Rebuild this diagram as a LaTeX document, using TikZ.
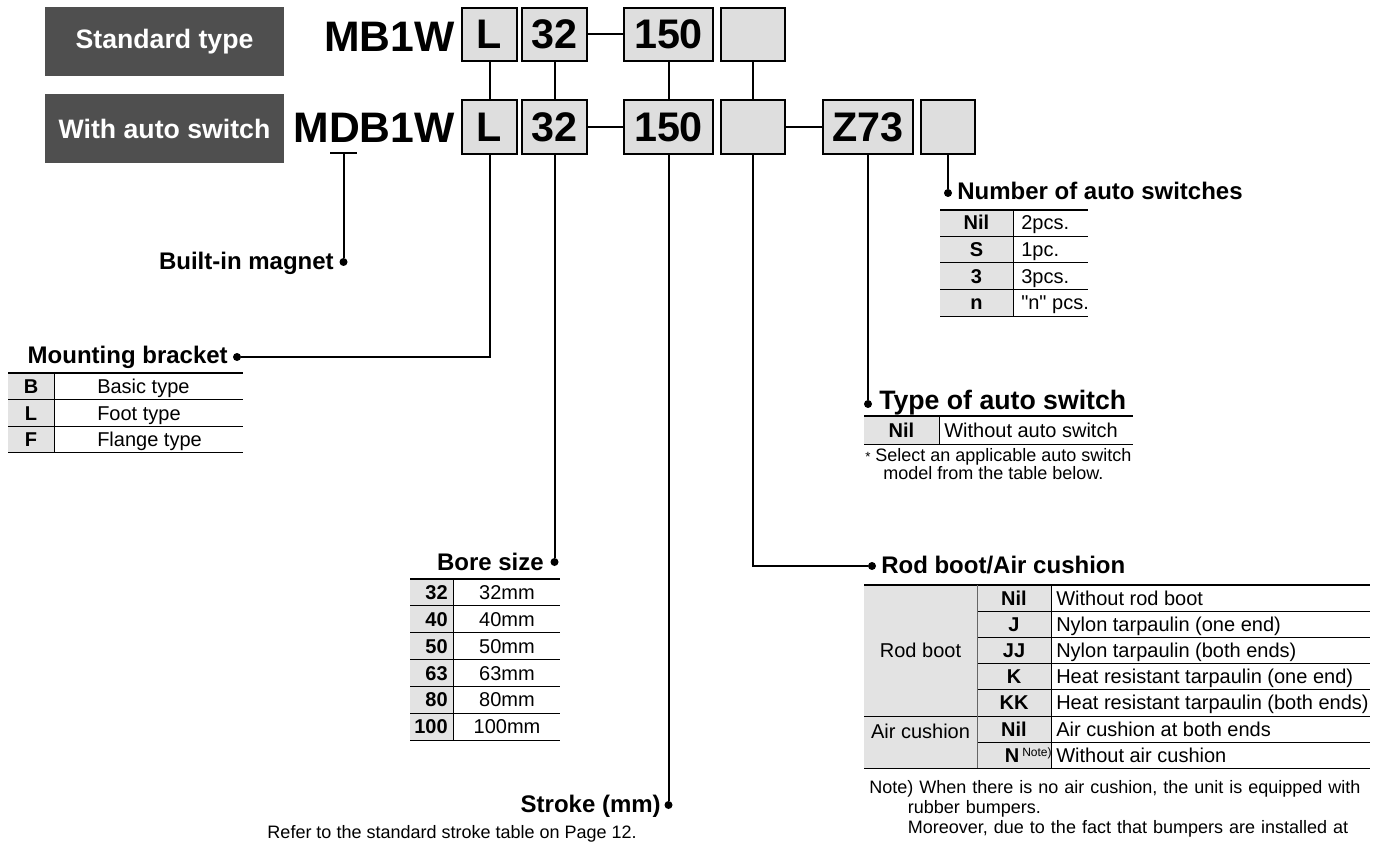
\documentclass[tikz,border=0pt]{standalone}
\usepackage{fontspec}
\setmainfont{Liberation Sans}
\usepackage{tikz}
\definecolor{headgray}{HTML}{4F4F4F}
\definecolor{boxgray}{HTML}{DEDEDE}
\definecolor{cellgray}{HTML}{E3E3E3}
\def\fsz#1{\fontsize{#1}{#1}\selectfont}
\tikzset{
  headbox/.style={fill=headgray, text=white, font=\fsz{20}\bfseries, inner sep=0pt, minimum width=179.25pt, minimum height=51.75pt},
  codebox/.style={draw, line width=1.5pt, fill=boxgray, inner sep=0pt, minimum height=40pt, font=\fsz{31}\bfseries},
  model/.style={font=\fsz{32}\bfseries, inner sep=0pt},
  ttl/.style={font=\fsz{18}\bfseries, inner sep=0pt},
  celltxt/.style={font=\fsz{15}, inner sep=0pt},
  keytxt/.style={font=\fsz{15}\bfseries, inner sep=0pt},
  smalltxt/.style={font=\fsz{13.5}, inner sep=0pt},
  blob/.style={circle, fill, inner sep=0pt, minimum size=6pt},
  wire/.style={line width=1.5pt},
  headrule/.style={line width=1.5pt},
  rowrule/.style={line width=0.75pt}
}

\begin{document}
\begin{tikzpicture}[x=0.75pt,y=-0.75pt]
\useasboundingbox (0,0) rectangle (1386,845);
%headers
\node[headbox] (std) at (164.5,41.5) {Standard type};
\node[headbox] (auto) at (164.5,128.5) {With auto switch};
\node[model, anchor=base east] (mb) at (455,52) {MB1W};
\node[model, anchor=base east] (mdb) at (455,143) {MDB1W};

%code boxes
%standard
\node[codebox, minimum width=41.25pt] (l1) at (489.5,34.5) {L};
\node[codebox, minimum width=48.75pt] (s1) at (554.5,34.5) {32};
\node[codebox, minimum width=66.75pt] (k1) at (668.5,34.5) {150};
\node[codebox, minimum width=48pt] (e1) at (753,34.5) {};
%auto switch
\node[codebox, minimum width=41.25pt] (l2) at (489.5,127) {L};
\node[codebox, minimum width=48.75pt] (s2) at (554.5,127) {32};
\node[codebox, minimum width=66.75pt] (k2) at (668.5,127) {150};
\node[codebox, minimum width=48pt] (e2) at (753,127) {};
\node[codebox, minimum width=67.5pt] (z2) at (868,127) {Z73};
\node[codebox, minimum width=40.5pt] (n2) at (948,127) {};

%dots
\coordinate (dmark) at (343.5,153);
\node[blob] (magdot) at (343.5,262) {};
\node[blob] (mbdot) at (237,357) {};
\node[blob] (boredot) at (554.5,562) {};
\node[blob] (strokedot) at (668.5,805) {};
\node[blob] (roddot) at (872,566) {};
\node[blob] (typedot) at (868,404) {};
\node[blob] (numdot) at (948,193) {};

%connectors
\draw[wire] (s1) -- (k1);
\draw[wire] (s2) -- (k2);
\draw[wire] (e2) -- (z2);
\draw[wire] (l1) -- (l2);
\draw[wire] (s1) -- (s2);
\draw[wire] (k1) -- (k2);
\draw[wire] (e1) -- (e2);
\draw[wire] (dmark) ++(-13.5,0) -- ++(27,0);
\draw[wire] (dmark) -- (magdot);
\draw[wire] (l2.south) |- (mbdot);
\draw[wire] (s2.south) -- (boredot);
\draw[wire] (k2.south) -- (strokedot);
\draw[wire] (e2.south) |- (roddot);
\draw[wire] (z2.south) -- (typedot);
\draw[wire] (n2.south) -- (numdot);

%titles
\node[ttl, anchor=base east] (magttl) at (334,270) {Built-in magnet};
\node[ttl, anchor=base east] (mbttl) at (228,363) {Mounting bracket};
\node[ttl, anchor=base east] (borettl) at (544,570) {Bore size};
\node[ttl, anchor=base east] (strokettl) at (661,812) {Stroke (mm)};
\node[ttl, anchor=base west] (numttl) at (957,200) {Number of auto switches};
\node[ttl, anchor=base west, font=\fsz{20}\bfseries] (typettl) at (879,409) {Type of auto switch};
\node[ttl, anchor=base west] (rodttl) at (881,573) {Rod boot/Air cushion};

%mounting bracket table
\fill[cellgray] (8,373) rectangle (54,452.5);
\draw[headrule] (8,373) -- (243,373);
\draw[rowrule] (8,399.5) -- (243,399.5);
\draw[rowrule] (8,426) -- (243,426);
\draw[rowrule] (8,452.5) -- (243,452.5);
\draw[rowrule] (54,373) -- (54,452.5);
\node[keytxt, anchor=base] (mbB) at (31,393) {B};
\node[keytxt, anchor=base] (mbL) at (31,420) {L};
\node[keytxt, anchor=base] (mbF) at (31,446) {F};
\node[celltxt, anchor=base west] (mbBt) at (97,393) {Basic type};
\node[celltxt, anchor=base west] (mbLt) at (97,420) {Foot type};
\node[celltxt, anchor=base west] (mbFt) at (97,446) {Flange type};

%number of auto switches table
\fill[cellgray] (940,210) rectangle (1013,316);
\draw[headrule] (940,210) -- (1088,210);
\draw[rowrule] (940,236.5) -- (1088,236.5);
\draw[rowrule] (940,263) -- (1088,263);
\draw[rowrule] (940,289.5) -- (1088,289.5);
\draw[rowrule] (940,316) -- (1088,316);
\draw[rowrule] (1013,210) -- (1013,316);
\node[keytxt, anchor=base] (numNil) at (976.5,230) {Nil};
\node[keytxt, anchor=base] (numS) at (976.5,257) {S};
\node[keytxt, anchor=base] (num3) at (976.5,283) {3};
\node[keytxt, anchor=base] (numn) at (976.5,310) {n};
\node[celltxt, anchor=base west] (numNilt) at (1021,230) {2pcs.};
\node[celltxt, anchor=base west] (numSt) at (1021,257) {1pc.};
\node[celltxt, anchor=base west] (num3t) at (1021,283) {3pcs.};
\node[celltxt, anchor=base west] (numnt) at (1021,310) {\textquotedbl n\textquotedbl{} pcs.};

%type of auto switch table
\fill[cellgray] (864,416) rectangle (939,444);
\draw[headrule] (864,416) -- (1133,416);
\draw[rowrule] (864,444) -- (1133,444);
\draw[rowrule] (939,416) -- (939,444);
\node[keytxt, anchor=base] (typeNil) at (901.5,437) {Nil};
\node[celltxt, anchor=base west] (typeNilt) at (944,437) {Without auto switch};
\node[smalltxt, anchor=base west] (typestar) at (865,461) {\fsz{10}*};
\node[smalltxt, anchor=base west] (typenote1) at (875,461) {Select an applicable auto switch};
\node[smalltxt, anchor=base west] (typenote2) at (883,479) {model from the table below.};

%bore size table
\fill[cellgray] (410,579) rectangle (453,740);
\draw[headrule] (410,579) -- (560,579);
\draw[rowrule] (410,605.8) -- (560,605.8);
\draw[rowrule] (410,632.7) -- (560,632.7);
\draw[rowrule] (410,659.5) -- (560,659.5);
\draw[rowrule] (410,686.3) -- (560,686.3);
\draw[rowrule] (410,713.2) -- (560,713.2);
\draw[rowrule] (410,740) -- (560,740);
\draw[rowrule] (453,579) -- (453,740);
\node[keytxt, anchor=base east] (b32) at (448,599.5) {32};
\node[keytxt, anchor=base east] (b40) at (448,626.3) {40};
\node[keytxt, anchor=base east] (b50) at (448,653) {50};
\node[keytxt, anchor=base east] (b63) at (448,680) {63};
\node[keytxt, anchor=base east] (b80) at (448,706.8) {80};
\node[keytxt, anchor=base east] (b100) at (448,733.6) {100};
\node[celltxt, anchor=base] (b32t) at (507,599.5) {32mm};
\node[celltxt, anchor=base] (b40t) at (507,626.3) {40mm};
\node[celltxt, anchor=base] (b50t) at (507,653) {50mm};
\node[celltxt, anchor=base] (b63t) at (507,680) {63mm};
\node[celltxt, anchor=base] (b80t) at (507,706.8) {80mm};
\node[celltxt, anchor=base] (b100t) at (507,733.6) {100mm};

%stroke note
\node[smalltxt, anchor=base east] (strokenote) at (637,838) {Refer to the standard stroke table on Page 12.};

%rod boot / air cushion table
\fill[cellgray] (864,585) rectangle (1051,768.4);
\draw[headrule] (864,585) -- (1370,585);
\draw[rowrule] (977,611.2) -- (1370,611.2);
\draw[rowrule] (977,637.4) -- (1370,637.4);
\draw[rowrule] (977,663.6) -- (1370,663.6);
\draw[rowrule] (977,689.8) -- (1370,689.8);
\draw[rowrule] (864,716) -- (1370,716);
\draw[rowrule] (977,742.2) -- (1370,742.2);
\draw[rowrule] (864,768.4) -- (1370,768.4);
\draw[rowrule, black!60] (977,585) -- (977,768.4);
\draw[rowrule] (1051,585) -- (1051,768.4);
\node[celltxt, anchor=base] (rodboot) at (920.5,657.5) {Rod boot};
\node[celltxt, anchor=base] (aircush) at (920.5,738) {Air cushion};
\node[keytxt, anchor=base] (rNil) at (1014,605) {Nil};
\node[keytxt, anchor=base] (rJ) at (1014,631.3) {J};
\node[keytxt, anchor=base] (rJJ) at (1014,657.5) {JJ};
\node[keytxt, anchor=base] (rK) at (1014,683.7) {K};
\node[keytxt, anchor=base] (rKK) at (1014,709.9) {KK};
\node[keytxt, anchor=base] (aNil) at (1014,736) {Nil};
\node[keytxt, anchor=base] (aN) at (1012,762.3) {N};
\node[smalltxt, anchor=base west, font=\fsz{9}] (aNnote) at (1022,756) {Note)};
\node[celltxt, anchor=base west] (rNilt) at (1056,605) {Without rod boot};
\node[celltxt, anchor=base west] (rJt) at (1056,631.3) {Nylon tarpaulin (one end)};
\node[celltxt, anchor=base west] (rJJt) at (1056,657.5) {Nylon tarpaulin (both ends)};
\node[celltxt, anchor=base west] (rKt) at (1056,683.7) {Heat resistant tarpaulin (one end)};
\node[celltxt, anchor=base west] (rKKt) at (1056,709.9) {Heat resistant tarpaulin (both ends)};
\node[celltxt, anchor=base west] (aNilt) at (1056,736) {Air cushion at both ends};
\node[celltxt, anchor=base west] (aNt) at (1056,762.3) {Without air cushion};

%note
\node[smalltxt, anchor=north west, text width=376.5pt] (rodnote) at (869,780)
  {\fontsize{13.5}{15}\selectfont\parindent=0pt
   \hangindent=29pt\hangafter=1 Note) When there is no air cushion, the unit is equipped with rubber bumpers.\par
   \hangindent=29pt\hangafter=0\parfillskip=0pt Moreover, due to the fact that bumpers are installed at\par};
\end{tikzpicture}
\end{document}
